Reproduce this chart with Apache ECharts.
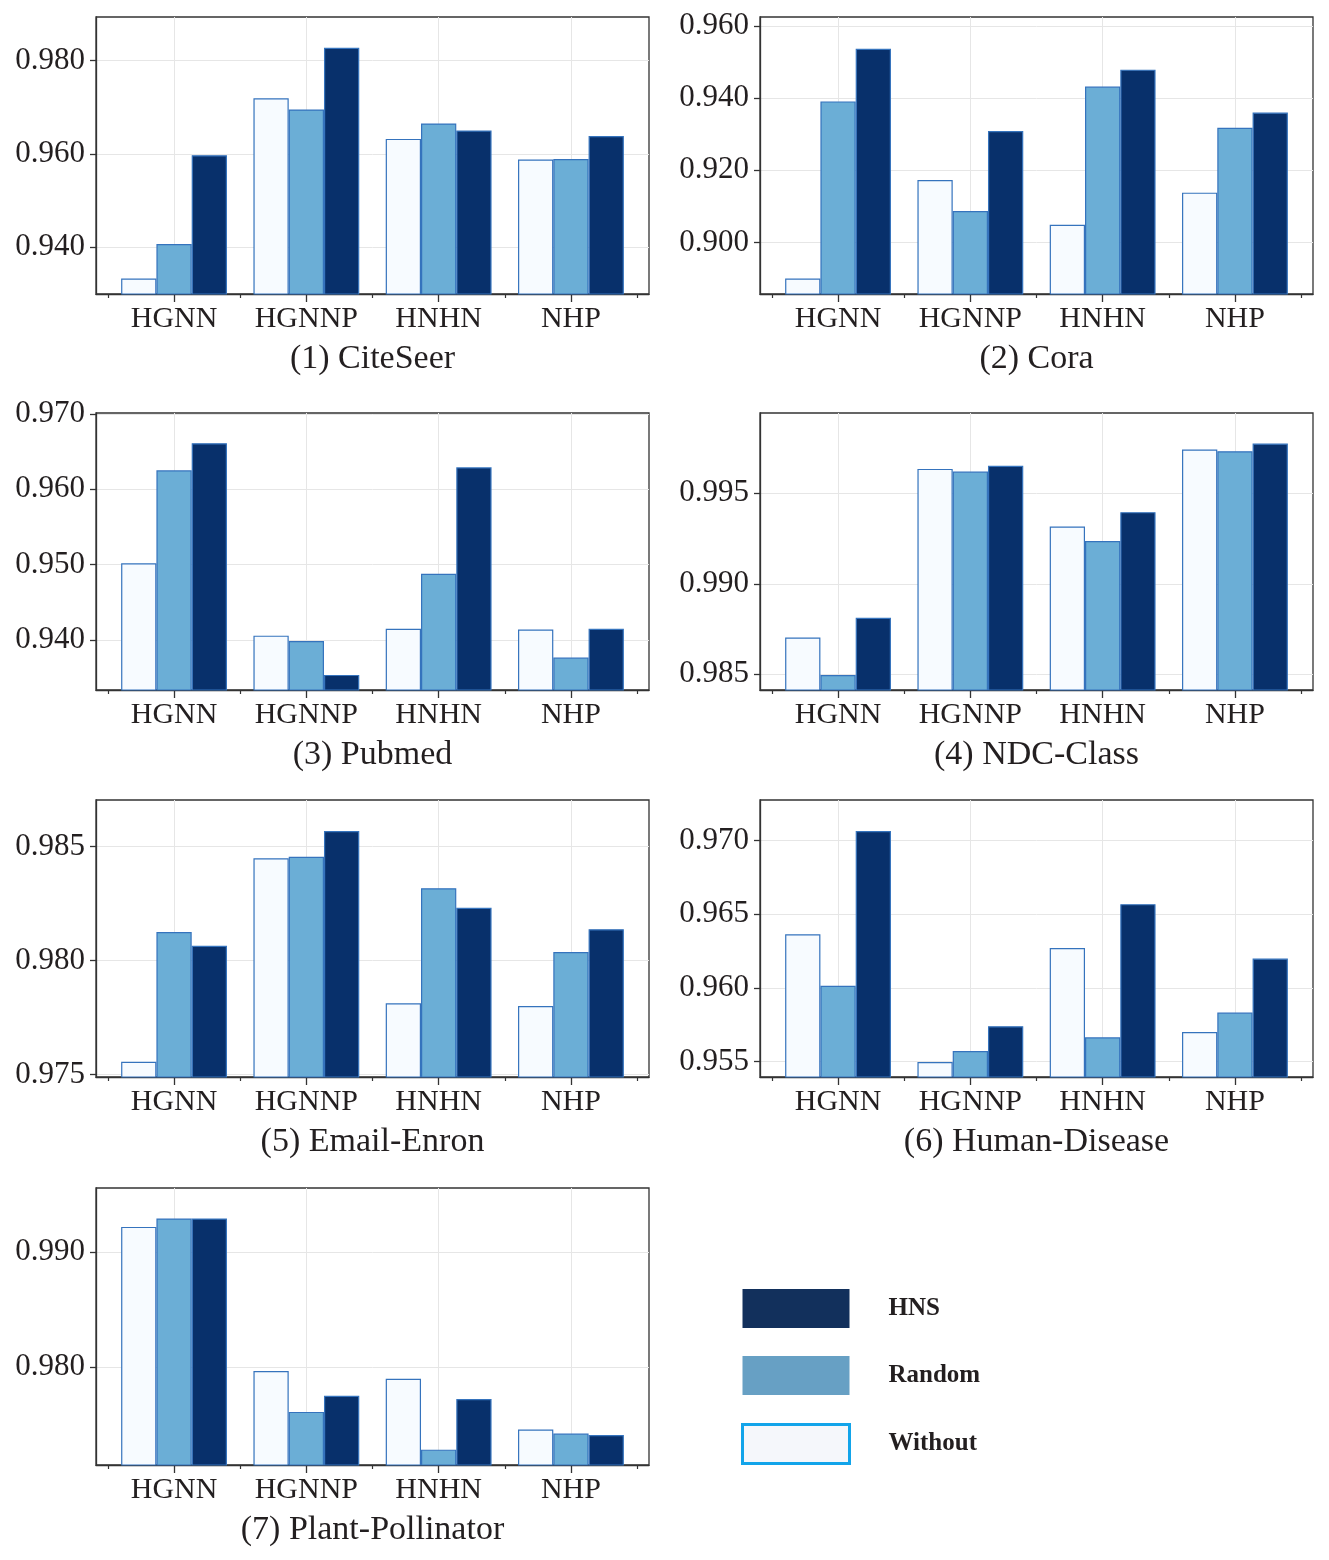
<!DOCTYPE html>
<html><head><meta charset="utf-8">
<script src="https://cdn.jsdelivr.net/npm/echarts@6/dist/echarts.min.js"></script>
<style>html,body{margin:0;padding:0;background:#fff}#c{width:1329px;height:1560px}</style>
</head><body><div id="c"></div>
<script>
// ---------- data ----------
const models = ['HGNN', 'HGNNP', 'HNHN', 'NHP'];
const titles = ['(1) CiteSeer', '(2) Cora', '(3) Pubmed', '(4) NDC-Class', '(5) Email-Enron', '(6) Human-Disease', '(7) Plant-Pollinator'];

const citeseerWithout = [0.9333, 0.9719, 0.9632, 0.9588];
const citeseerRandom  = [0.9407, 0.9695, 0.9665, 0.9589];
const citeseerHNS     = [0.9597, 0.9827, 0.9650, 0.9638];
const citeseerTicks   = [0.940, 0.960, 0.980];
const citeseerRange   = [0.9300, 0.9893];

const coraWithout = [0.8900, 0.9173, 0.9049, 0.9138];
const coraRandom  = [0.9391, 0.9087, 0.9432, 0.9318];
const coraHNS     = [0.9537, 0.9309, 0.9479, 0.9360];
const coraTicks   = [0.900, 0.920, 0.940, 0.960];
const coraRange   = [0.8857, 0.9625];

const pubmedWithout = [0.9502, 0.9406, 0.9415, 0.9414];
const pubmedRandom  = [0.9625, 0.9399, 0.9488, 0.9377];
const pubmedHNS     = [0.9661, 0.9354, 0.9629, 0.9415];
const pubmedTicks   = [0.940, 0.950, 0.960, 0.970];
const pubmedRange   = [0.9334, 0.9701];

const ndcWithout = [0.98703, 0.99635, 0.99317, 0.99742];
const ndcRandom  = [0.98496, 0.99620, 0.99236, 0.99733];
const ndcHNS     = [0.98812, 0.99652, 0.99396, 0.99775];
const ndcTicks   = [0.985, 0.990, 0.995];
const ndcRange   = [0.98413, 0.99944];

const enronWithout = [0.97557, 0.98449, 0.97813, 0.97801];
const enronRandom  = [0.98126, 0.98456, 0.98318, 0.98038];
const enronHNS     = [0.98066, 0.98569, 0.98232, 0.98138];
const enronTicks   = [0.975, 0.980, 0.985];
const enronRange   = [0.97490, 0.98705];

const diseaseWithout = [0.96364, 0.95498, 0.96271, 0.95701];
const diseaseRandom  = [0.96014, 0.95572, 0.95665, 0.95833];
const diseaseHNS     = [0.97063, 0.95740, 0.96568, 0.96199];
const diseaseTicks   = [0.955, 0.960, 0.965, 0.970];
const diseaseRange   = [0.95396, 0.97274];

const plantWithout = [0.99217, 0.97968, 0.97901, 0.97461];
const plantRandom  = [0.99290, 0.97614, 0.97287, 0.97426];
const plantHNS     = [0.99290, 0.97754, 0.97725, 0.97414];
const plantTicks   = [0.980, 0.990];
const plantRange   = [0.97154, 0.99554];

// ---------- build ----------
const panels = [
  [citeseerWithout, citeseerRandom, citeseerHNS, citeseerTicks, citeseerRange],
  [coraWithout, coraRandom, coraHNS, coraTicks, coraRange],
  [pubmedWithout, pubmedRandom, pubmedHNS, pubmedTicks, pubmedRange],
  [ndcWithout, ndcRandom, ndcHNS, ndcTicks, ndcRange],
  [enronWithout, enronRandom, enronHNS, enronTicks, enronRange],
  [diseaseWithout, diseaseRandom, diseaseHNS, diseaseTicks, diseaseRange],
  [plantWithout, plantRandom, plantHNS, plantTicks, plantRange]
];

const FONT = "'Liberation Serif', 'Times New Roman', serif";
const TXT = '#231f20';
const AX = '#333333';
const GRIDC = '#e6e6e6';
const EDGE = '#3573bd';
const fills = { Without: '#f7fbff', Random: '#6baed6', HNS: '#08306b' };
const colLeft = [96, 760];
const rowTop = [17, 413, 800, 1188];
const GW = 553, GH = 277;

const grid = [], xAxis = [], yAxis = [], series = [];
const catIdx = models.map((m, k) => k);
const minorIdx = [0, 1, 2, 3, 4];

panels.forEach((p, i) => {
  const [w, r, h, ticks, range] = p;
  grid.push({
    left: colLeft[i % 2], top: rowTop[Math.floor(i / 2)], width: GW, height: GH,
    show: true, borderColor: AX, borderWidth: 1.3, backgroundColor: '#fff', containLabel: false
  });
  xAxis.push({
    gridIndex: i, type: 'value', position: 'bottom', min: -0.59, max: 3.59, interval: 1,
    axisLine: { show: true, onZero: false, lineStyle: { color: AX, width: 1.3 } },
    axisTick: { show: true, inside: false, length: 8, customValues: catIdx, lineStyle: { color: AX, width: 1.3 } },
    axisLabel: {
      customValues: catIdx, margin: 10, fontSize: 30, fontFamily: FONT, color: TXT,
      formatter: v => models[Math.round(v)] || ''
    },
    splitLine: { show: true, lineStyle: { color: GRIDC, width: 1 } },
    name: titles[i], nameLocation: 'middle', nameGap: 48,
    nameTextStyle: { fontSize: 34, fontFamily: FONT, color: TXT }
  });
  xAxis.push({
    gridIndex: i, type: 'value', position: 'bottom', min: -0.09, max: 4.09, interval: 1,
    axisLine: { show: false },
    axisTick: { show: true, inside: false, length: 4, customValues: minorIdx, lineStyle: { color: AX, width: 1.2 } },
    axisLabel: { show: false },
    splitLine: { show: false }
  });
  yAxis.push({
    gridIndex: i, type: 'value', min: range[0], max: range[1],
    interval: Math.round((ticks[1] - ticks[0]) * 1e6) / 1e6,
    axisLine: { show: true, onZero: false, lineStyle: { color: AX, width: 1.3 } },
    axisTick: { show: true, inside: false, length: 6, customValues: ticks, lineStyle: { color: AX, width: 1.3 } },
    axisLabel: {
      customValues: ticks, margin: 11, fontSize: 31, fontFamily: FONT, color: TXT,
      padding: [5, 0, 0, 0],
      formatter: v => v.toFixed(3)
    },
    splitLine: { show: true, lineStyle: { color: GRIDC, width: 1 } }
  });
  [['Without', w], ['Random', r], ['HNS', h]].forEach(([name, vals]) => {
    series.push({
      type: 'bar', name: name, xAxisIndex: 2 * i, yAxisIndex: i,
      data: models.map((m, k) => [k, vals[k]]),
      barGap: '0%', barCategoryGap: '20%', clip: true,
      itemStyle: { color: fills[name], borderColor: EDGE, borderWidth: 1.2 },
      emphasis: { disabled: true }
    });
  });
});

const chart = echarts.init(document.getElementById('c'), null, { renderer: 'canvas' });
chart.setOption({
  animation: false,
  backgroundColor: '#fff',
  grid, xAxis, yAxis, series,
  legend: {
    left: 741, top: 1289, orient: 'vertical', padding: 0,
    itemWidth: 107, itemHeight: 39, itemGap: 28, selectedMode: false, icon: 'rect',
    textStyle: { fontFamily: FONT, fontWeight: 'bold', fontSize: 25, color: TXT, padding: [0, 0, 0, 34] },
    data: [
      { name: 'HNS', itemStyle: { color: '#12305c', borderWidth: 0 } },
      { name: 'Random', itemStyle: { color: '#67a0c4', borderWidth: 0 } },
      { name: 'Without', itemStyle: { color: '#f5f7fb', borderColor: '#12a4ea', borderWidth: 3 } }
    ]
  }
});
</script>
</body></html>
